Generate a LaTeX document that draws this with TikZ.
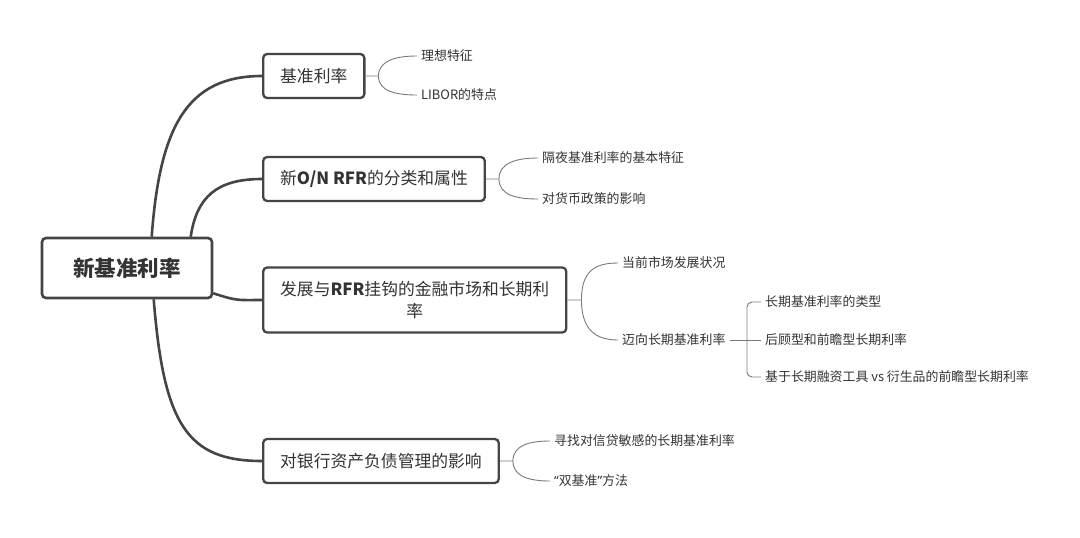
\documentclass[tikz,border=0pt]{standalone}
\usepackage{fontspec}
\setmainfont{Noto Sans CJK SC}
\newfontfamily\quotefont{Noto Sans}
\usetikzlibrary{positioning,calc}

\definecolor{linegray}{HTML}{454545}
\definecolor{twiggray}{HTML}{7A7A7A}
\definecolor{textgray}{HTML}{333333}

\tikzset{
  rootbox/.style={draw=linegray, line width=2.6pt, rounded corners=4pt, fill=white,
    text=textgray, font=\fontsize{21.5}{24}\selectfont\bfseries,
    minimum width=170pt, minimum height=60pt, inner sep=0pt},
  topicbox/.style={draw=linegray, line width=2.3pt, rounded corners=4pt, fill=white,
    text=textgray, font=\fontsize{16.8}{22}\selectfont,
    minimum height=44pt, inner xsep=17pt, anchor=west},
  leaf/.style={text=textgray, font=\fontsize{12.9}{15}\selectfont, anchor=west, inner xsep=4pt},
  branch/.style={draw=linegray, line width=2.6pt},
  twig/.style={draw=twiggray, line width=0.9pt},
}

\begin{document}
\begin{tikzpicture}[x=1pt,y=-1pt]
    \useasboundingbox[fill=white] (0,0) rectangle (1080,538);

    % Root and first-level topics
    \node[rootbox] (root) at (127,268) {新基准利率};
    \node[topicbox] (rate) at (262,76) {基准利率};
    \node[topicbox] (onrfr) at (262,179) {新\textbf{O/N RFR}的分类和属性};
    \node[topicbox, minimum height=65pt, align=center] (market) at (262,300)
        {发展与\textbf{RFR}挂钩的金融市场和长期利\\率};
    \node[topicbox] (alm) at (262,461) {对银行资产负债管理的影响};

    % Branches from the root
    \draw[branch] ($(root.north west)+(111,0)$) .. controls +(8,-110) and +(-75,0) .. (rate.west);
    \draw[branch] ($(root.north west)+(150,0)$) .. controls +(6,-40) and +(-45,0) .. (onrfr.west);
    \draw[branch] ($(root.south east)+(0,-6)$) .. controls +(25,8) and +(-25,0) .. (market.west);
    \draw[branch] ($(root.south west)+(113,0)$) .. controls +(10,125) and +(-75,0) .. (alm.west);

    % Leaves of 基准利率
    \node[leaf] (ideal) at (417,56) {理想特征};
    \node[leaf] (libor) at (417,95) {LIBOR的特点};
    \coordinate (f1) at ($(rate.east)+(13,0)$);
    \draw[twig] (rate.east) -- (f1) .. controls +(0,-15) and +(-22,0) .. (ideal.west);
    \draw[twig] (f1) .. controls +(0,15) and +(-22,0) .. (libor.west);

    % Leaves of O/N RFR
    \node[leaf] (basic) at (538,158) {隔夜基准利率的基本特征};
    \node[leaf] (policy) at (538,199) {对货币政策的影响};
    \coordinate (f2) at ($(onrfr.east)+(13,0)$);
    \draw[twig] (onrfr.east) -- (f2) .. controls +(0,-16) and +(-22,0) .. (basic.west);
    \draw[twig] (f2) .. controls +(0,16) and +(-22,0) .. (policy.west);

    % Leaves of the RFR market
    \node[leaf] (current) at (618,263) {当前市场发展状况};
    \node[leaf] (toward) at (618,340) {迈向长期基准利率};
    \coordinate (f3) at ($(market.east)+(14,0)$);
    \draw[twig] (market.east) -- (f3) .. controls +(0,-30) and +(-22,0) .. (current.west);
    \draw[twig] (f3) .. controls +(0,30) and +(-22,0) .. (toward.west);

    % Long-term benchmark bracket
    \node[leaf] (ltype) at (761,302) {长期基准利率的类型};
    \node[leaf] (lback) at (761,340) {后顾型和前瞻型长期利率};
    \node[leaf] (lfwd) at (761,377) {基于长期融资工具 vs 衍生品的前瞻型长期利率};
    \coordinate (bx) at (747,340);
    \draw[twig] (toward.east) -- (lback.west);
    \draw[twig, rounded corners=5pt] (ltype.west) -- (ltype.west -| bx) -- (lfwd.west -| bx) -- (lfwd.west);

    % Leaves of ALM
    \node[leaf] (credit) at (550,441) {寻找对信贷敏感的长期基准利率};
    \node[leaf] (dual) at (550,481) {{\quotefont “}双基准{\quotefont ”}方法};
    \coordinate (f4) at ($(alm.east)+(13,0)$);
    \draw[twig] (alm.east) -- (f4) .. controls +(0,-15) and +(-22,0) .. (credit.west);
    \draw[twig] (f4) .. controls +(0,15) and +(-22,0) .. (dual.west);
\end{tikzpicture}
\end{document}
